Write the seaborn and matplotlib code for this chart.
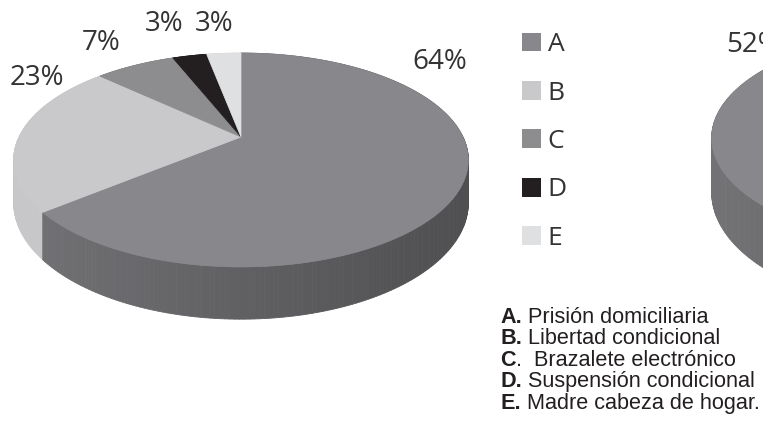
import numpy as np
import pandas as pd
import seaborn as sns
import matplotlib
matplotlib.use("Agg")
import matplotlib.pyplot as plt
from matplotlib.patches import Patch
from matplotlib.colors import to_rgb

# ---------------- data ----------------
categories = ["A", "B", "C", "D", "E"]
pie1_values = [64, 23, 7, 3, 3]
pie1_labels = ["64%", "23%", "7%", "3%", "3%"]

# second chart (only partly visible at the right edge)
pie2_categories = ["A", "resto"]
pie2_values = [52, 48]
pie2_labels = ["52%", ""]

desc_prefix = ["A.", "B.", "C", "D.", "E."]
descriptions = [" Prisión domiciliaria", " Libertad condicional", ".  Brazalete electrónico",
                " Suspensión condicional", " Madre cabeza de hogar."]

# ---------------- styles ----------------
slice_colors = {"A": "#88888c", "B": "#c9c9cb", "C": "#8d8d90", "D": "#231f20",
                "E": "#dfe0e2", "resto": "#c9c9cb"}
side_shade = {"A": (0.84, 0.58), "B": (0.99, 0.97), "C": (0.82, 0.66),
              "D": (0.9, 0.9), "E": (0.95, 0.95), "resto": (0.95, 0.9)}
label_pos1 = [(440, 62), (37, 78), (101, 43), (164, 24), (214, 24)]
label_pos2 = [(754, 45), None]

sns.set_theme(style="white")
plt.rcParams["font.family"] = ["Open Sans", "DejaVu Sans"]

fig = plt.figure(figsize=(7.63, 4.33), dpi=100)
ax = fig.add_axes([0, 0, 1, 1])
ax.set_xlim(0, 763)
ax.set_ylim(433, 0)
ax.axis("off")


def proj(theta, cx, cy, R, RT, P):
    th = np.radians(theta)
    u, v = np.cos(th), np.sin(th)
    s = 1.0 / (1.0 + P * v)
    return cx + R * u * s, cy - RT * v * s, s, v


def draw_pie3d(ax, cats, values, cx, cy, R=222, RT=102, P=0.215, H=41,
               start=90, clockwise=True):
    vals = np.asarray(values, float)
    span = vals / vals.sum() * 360.0
    sign = -1 if clockwise else 1
    bounds = start + sign * np.concatenate([[0], np.cumsum(span)])
    segs = []
    for i, c in enumerate(cats):
        a0, a1 = bounds[i], bounds[i + 1]
        n = max(int(abs(a1 - a0)), 2)
        th = np.linspace(a0, a1, n + 1)
        base = np.array(to_rgb(slice_colors[c]))
        fl, fr = side_shade[c]
        for t0, t1 in zip(th[:-1], th[1:]):
            x0, y0, s0, v0 = proj(t0, cx, cy, R, RT, P)
            x1, y1, s1, v1 = proj(t1, cx, cy, R, RT, P)
            xm = 0.5 * (x0 + x1)
            t = np.clip((xm - (cx - R)) / (2 * R), 0, 1)
            f = fl + (fr - fl) * t
            col = np.clip(base * f, 0, 1)
            segs.append((0.5 * (v0 + v1),
                         [x0, x1, x1, x0],
                         [y0, y1, y1 + H * s1, y0 + H * s0], col))
    segs.sort(key=lambda z: -z[0])
    for _, xs, ys, col in segs:
        ax.fill(xs, ys, color=col, lw=0.6, ec=col, zorder=1)
    for i, c in enumerate(cats):
        a0, a1 = bounds[i], bounds[i + 1]
        n = max(int(abs(a1 - a0)), 2)
        th = np.linspace(a0, a1, n + 1)
        x, y, _, _ = proj(th, cx, cy, R, RT, P)
        col = slice_colors[c]
        ax.fill(np.r_[cx, x], np.r_[cy, y], color=col, lw=0.5, ec=col, zorder=2)


draw_pie3d(ax, categories, pie1_values, cx=241, cy=137, H=41)
draw_pie3d(ax, pie2_categories, pie2_values, cx=939, cy=115, H=52, clockwise=False)

label_color = "#333333"
for lab, pos in zip(pie1_labels + pie2_labels, label_pos1 + label_pos2):
    if pos is None or not lab:
        continue
    ax.text(pos[0], pos[1], lab, fontsize=20, color=label_color,
            ha="center", va="center", zorder=5)

# legend
handles = [Patch(facecolor=slice_colors[c], edgecolor="none") for c in categories]
leg = ax.legend(handles, categories, loc="center left", bbox_to_anchor=(522, 141.5),
                bbox_transform=ax.transData, frameon=False, fontsize=19,
                handlelength=0.72, handleheight=0.72, handletextpad=0.25,
                labelspacing=0.885, borderpad=0, borderaxespad=0)
for t in leg.get_texts():
    t.set_color(label_color)

# description block
for i, (p, d) in enumerate(zip(desc_prefix, descriptions)):
    y = 323 + i * 21.4
    tb = ax.text(500, y, p, fontsize=15.6, fontweight="bold", family="Liberation Sans",
                 color="#231f20", ha="left", va="baseline", zorder=5)
    ax.annotate(d, xy=(1, 0), xycoords=tb, fontsize=15.6, family="Liberation Sans",
                color="#231f20", ha="left", va="bottom", zorder=5)

fig.savefig("out.png", dpi=100)
